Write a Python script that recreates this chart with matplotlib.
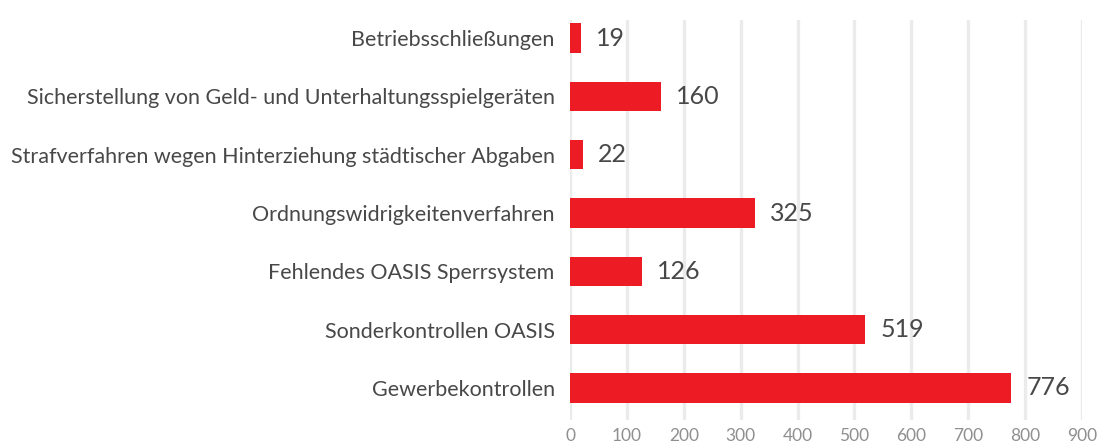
import matplotlib
matplotlib.use("Agg")
import matplotlib.pyplot as plt

categories = ["Gewerbekontrollen", "Sonderkontrollen OASIS", "Fehlendes OASIS Sperrsystem",
              "Ordnungswidrigkeitenverfahren", "Strafverfahren wegen Hinterziehung städtischer Abgaben",
              "Sicherstellung von Geld- und Unterhaltungsspielgeräten", "Betriebsschließungen"]
values = [776, 519, 126, 325, 22, 160, 19]
xticks = [0, 100, 200, 300, 400, 500, 600, 700, 800, 900]

plt.rcParams['font.family'] = ['Lato', 'DejaVu Sans']

fig = plt.figure(figsize=(10.98, 4.46), dpi=100)
ax = fig.add_axes([570/1098, 1-420/446, 512/1098, 400/446])

ypos = list(range(len(categories)))
ax.barh(ypos, values, height=0.5, color="#ED1C24", zorder=3)
for y, v in zip(ypos, values):
    ax.text(v + 27, y, str(v), va="center", ha="left", fontsize=18, color="#484848")

ax.set_xlim(0, 900)
ax.set_ylim(-0.55, 6.31)
ax.set_xticks(xticks)
ax.set_xticklabels([str(t) for t in xticks], fontsize=12.5, color="#8f8f8f")
ax.set_yticks(ypos)
ax.set_yticklabels(categories, fontsize=15.5, color="#484848")
ax.tick_params(axis="both", length=0)
ax.tick_params(axis="y", pad=11)
ax.tick_params(axis="x", pad=6)
for x in xticks:
    ax.axvline(x, color="#EBEBEB", lw=2.4, zorder=1)
for s in ax.spines.values():
    s.set_visible(False)

fig.savefig("out.png", dpi=100)
